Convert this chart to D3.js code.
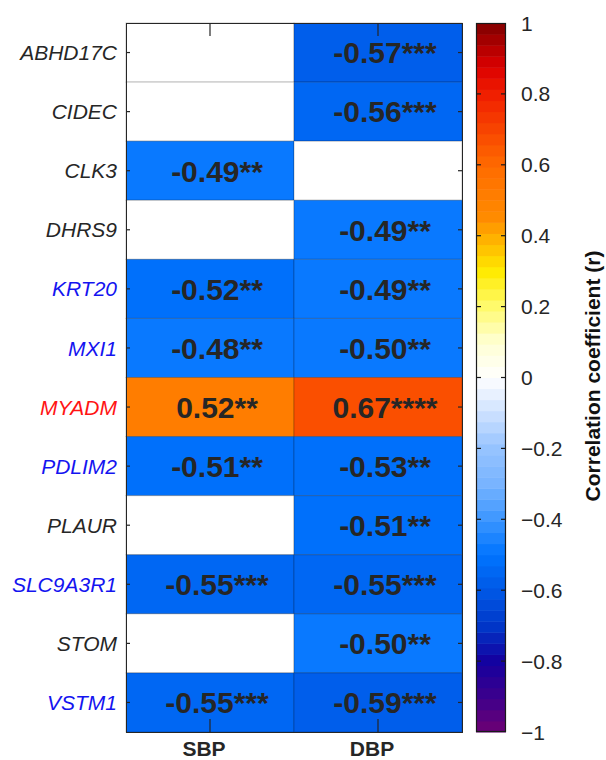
<!DOCTYPE html>
<html>
<head>
    <meta charset="utf-8">
    <title>Correlation heatmap</title>
    <script src="https://d3js.org/d3.v7.min.js"></script>
</head>
<body style="margin:0;background:#fff;">
    <div id="chart"></div>

    <script>
        // Data
        const genes = ["ABHD17C", "CIDEC", "CLK3", "DHRS9", "KRT20", "MXI1", "MYADM",
                       "PDLIM2", "PLAUR", "SLC9A3R1", "STOM", "VSTM1"];
        // label colour group: "n" = neutral, "down" = blue, "up" = red
        const geneGroup = ["n", "n", "n", "n", "down", "down", "up",
                           "down", "n", "down", "n", "down"];
        const measures = ["SBP", "DBP"];
        const sbpR = [null, null, -0.49, null, -0.52, -0.48, 0.52, -0.51, null, -0.55, null, -0.55];
        const sbpStars = ["", "", "**", "", "**", "**", "**", "**", "", "***", "", "***"];
        const dbpR = [-0.57, -0.56, null, -0.49, -0.49, -0.50, 0.67, -0.53, -0.51, -0.55, -0.50, -0.59];
        const dbpStars = ["***", "***", "", "**", "**", "**", "****", "**", "**", "***", "**", "***"];

        const W = 606, H = 760;
        const svg = d3.select("#chart").append("svg")
            .attr("width", W).attr("height", H)
            .style("font-family", "'Liberation Sans', Arial, sans-serif");

        // Colormap (64 discrete levels, blue-white-red)
        const stops = [
            [-1, "#6e0073"], [-0.9, "#3c008c"], [-0.8, "#1400a0"], [-0.7, "#0037c8"],
            [-0.6, "#0058e6"], [-0.5, "#0074ff"], [-0.4, "#3c96ff"], [-0.3, "#78b4ff"],
            [-0.2, "#96c3ff"], [-0.1, "#cde1ff"], [0, "#ffffff"], [0.1, "#ffffd2"],
            [0.2, "#fffa6e"], [0.3, "#ffeb00"], [0.45, "#ff8c00"], [0.6, "#ff6a00"],
            [0.8, "#f01e00"], [0.875, "#dc0000"], [1, "#800000"]
        ];
        const smooth = d3.scaleLinear()
            .domain(stops.map(d => d[0]))
            .range(stops.map(d => d[1]))
            .interpolate(d3.interpolateRgb);
        const nLevels = 64;
        const levels = d3.range(nLevels).map(i => smooth(-1 + (i + 0.5) * 2 / nLevels));
        const color = d3.scaleQuantize().domain([-1, 1]).range(levels);

        // Heatmap scales
        const x = d3.scaleBand().domain(measures).range([126, 462]);
        const y = d3.scaleBand().domain(genes).range([23, 732]);

        const cells = [];
        genes.forEach((g, i) => {
            cells.push({ gene: g, m: "SBP", r: sbpR[i], stars: sbpStars[i] });
            cells.push({ gene: g, m: "DBP", r: dbpR[i], stars: dbpStars[i] });
        });

        svg.append("g").selectAll("rect")
            .data(cells)
            .join("rect")
            .attr("x", d => x(d.m))
            .attr("y", d => y(d.gene))
            .attr("width", x.bandwidth())
            .attr("height", y.bandwidth())
            .attr("fill", d => d.r === null ? "#ffffff" : color(d.r))
            .attr("stroke", "rgba(0,0,0,0.22)")
            .attr("stroke-width", 1);

        // Cell labels
        const fmt = d3.format(".2f");
        svg.append("g").selectAll("text")
            .data(cells.filter(d => d.r !== null))
            .join("text")
            .attr("x", d => x(d.m) + x.bandwidth() / 2 + 7)
            .attr("y", d => y(d.gene) + y.bandwidth() / 2)
            .attr("dy", "0.36em")
            .attr("text-anchor", "middle")
            .attr("font-size", 30)
            .attr("font-weight", "bold")
            .attr("fill", "#262626")
            .text(d => (d.r < 0 ? "-" : "") + fmt(Math.abs(d.r)) + d.stars);

        // Axes frame
        svg.append("rect")
            .attr("x", 126.5).attr("y", 23.5)
            .attr("width", 336).attr("height", 709)
            .attr("fill", "none")
            .attr("stroke", "#262626")
            .attr("stroke-width", 1);

        // x ticks (top and bottom, inward)
        const tickG = svg.append("g").attr("stroke", "#262626").attr("stroke-width", 1.2);
        measures.forEach(m => {
            const cx = x(m) + x.bandwidth() / 2;
            tickG.append("line").attr("x1", cx).attr("x2", cx).attr("y1", 23).attr("y2", 36);
            tickG.append("line").attr("x1", cx).attr("x2", cx).attr("y1", 732).attr("y2", 719);
        });
        // y ticks (left and right, inward)
        genes.forEach(g => {
            const cy = y(g) + y.bandwidth() / 2;
            tickG.append("line").attr("x1", 126).attr("x2", 130).attr("y1", cy).attr("y2", cy);
            tickG.append("line").attr("x1", 462).attr("x2", 458).attr("y1", cy).attr("y2", cy);
        });

        // Gene labels
        const groupColor = { n: "#262626", down: "#1414f0", up: "#ff1414" };
        svg.append("g").selectAll("text")
            .data(genes)
            .join("text")
            .attr("x", 117)
            .attr("y", g => y(g) + y.bandwidth() / 2)
            .attr("dy", "0.36em")
            .attr("text-anchor", "end")
            .attr("font-size", 21)
            .attr("font-style", "italic")
            .attr("fill", (g, i) => groupColor[geneGroup[i]])
            .text(g => g);

        // Measure labels
        svg.append("g").selectAll("text")
            .data(measures)
            .join("text")
            .attr("x", m => x(m) + x.bandwidth() / 2 - 6)
            .attr("y", 756)
            .attr("text-anchor", "middle")
            .attr("font-size", 21)
            .attr("font-weight", "bold")
            .attr("fill", "#262626")
            .text(m => m);

        // Colorbar
        const cbX = 476, cbW = 30;
        const yCb = d3.scaleLinear().domain([-1, 1]).range([732, 23]);
        const step = 2 / nLevels;
        svg.append("g").selectAll("rect")
            .data(levels)
            .join("rect")
            .attr("x", cbX)
            .attr("width", cbW)
            .attr("y", (c, i) => yCb(-1 + (i + 1) * step))
            .attr("height", (c, i) => yCb(-1 + i * step) - yCb(-1 + (i + 1) * step) + 0.5)
            .attr("fill", c => c);
        svg.append("rect")
            .attr("x", cbX + 0.5).attr("y", 23.5)
            .attr("width", cbW - 1).attr("height", 708)
            .attr("fill", "none")
            .attr("stroke", "#1a1a1a")
            .attr("stroke-width", 1.2);

        const cbTicks = yCb.ticks(10);
        const cbFmt = d3.format("~g");
        const cbG = svg.append("g");
        cbTicks.forEach(t => {
            const ty = yCb(t);
            if (t > -1 && t < 1) {
                cbG.append("line").attr("x1", cbX).attr("x2", cbX + 5)
                    .attr("y1", ty).attr("y2", ty).attr("stroke", "#1a1a1a").attr("stroke-width", 1.2);
                cbG.append("line").attr("x1", cbX + cbW).attr("x2", cbX + cbW - 5)
                    .attr("y1", ty).attr("y2", ty).attr("stroke", "#1a1a1a").attr("stroke-width", 1.2);
            }
            cbG.append("text")
                .attr("x", 521)
                .attr("y", ty)
                .attr("dy", "0.36em")
                .attr("font-size", 21)
                .attr("fill", "#262626")
                .text(cbFmt(t));
        });

        // Colorbar title
        svg.append("text")
            .attr("transform", "translate(600,376) rotate(-90)")
            .attr("text-anchor", "middle")
            .attr("font-size", 21)
            .attr("font-weight", "bold")
            .attr("fill", "#111")
            .text("Correlation coefficient (r)");
    </script>
</body>
</html>
